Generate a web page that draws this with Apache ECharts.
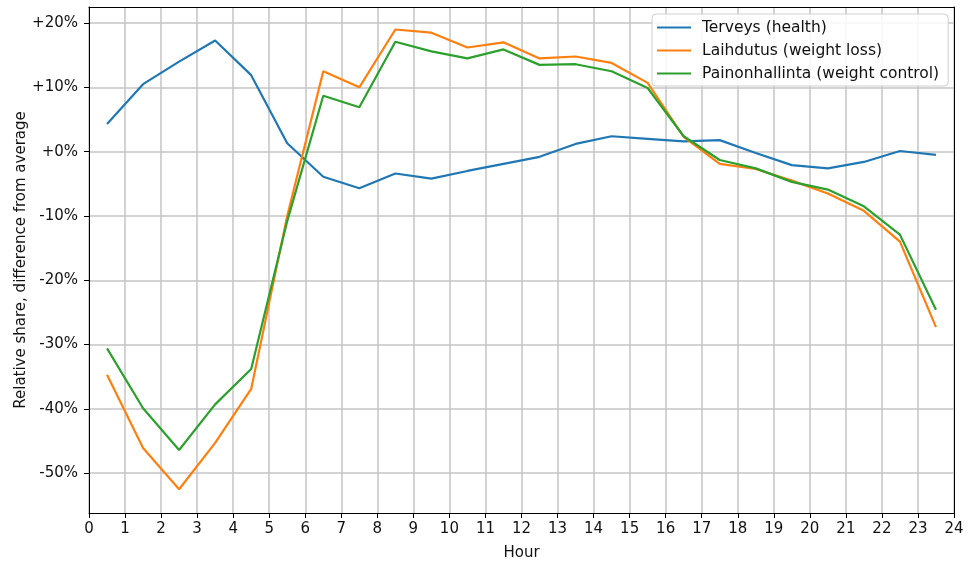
<!DOCTYPE html>
<html>
<head>
<meta charset="utf-8">
<script src="https://cdn.jsdelivr.net/npm/echarts@6/dist/echarts.min.js"></script>
<style>
  html, body { margin: 0; padding: 0; background: #fff; }
  #chart { width: 973px; height: 562px; }
</style>
</head>
<body>
<div id="chart"></div>
<script>
// Hour of day (bin centres) and relative share vs. daily average, in percent
const hours = [0.5, 1.5, 2.5, 3.5, 4.5, 5.5, 6.5, 7.5, 8.5, 9.5, 10.5, 11.5,
               12.5, 13.5, 14.5, 15.5, 16.5, 17.5, 18.5, 19.5, 20.5, 21.5, 22.5, 23.5];

const terveys = [4.3, 10.5, 14.0, 17.3, 11.9, 1.3, -3.9, -5.7, -3.4, -4.2, -3.0, -1.9,
                 -0.8, 1.2, 2.4, 2.0, 1.6, 1.8, -0.2, -2.1, -2.6, -1.6, 0.1, -0.5];

const laihdutus = [-34.7, -46.1, -52.5, -45.3, -36.9, -10.0, 12.5, 10.0, 19.0, 18.5, 16.2, 17.0,
                   14.5, 14.8, 13.8, 10.7, 2.3, -1.9, -2.7, -4.5, -6.5, -9.2, -14.0, -27.3];

const painonhallinta = [-30.6, -39.9, -46.4, -39.3, -33.8, -10.8, 8.7, 6.9, 17.1, 15.6, 14.5, 15.9,
                        13.5, 13.6, 12.5, 9.9, 2.4, -1.3, -2.6, -4.7, -5.9, -8.5, -12.9, -24.6];

const seriesNames = ['Terveys (health)', 'Laihdutus (weight loss)', 'Painonhallinta (weight control)'];
const seriesColors = ['#1f77b4', '#ff7f0e', '#2ca02c'];

const yTickValues = [-50, -40, -30, -20, -10, 0, 10, 20];

const FONT = 'DejaVu Sans';
const FS = 15;
const gridColor = '#c4c4c4';

function pair(xs, ys) {
  return xs.map((x, i) => [x, ys[i]]);
}

function pctLabel(v) {
  const n = Math.round(v);
  return (n >= 0 ? '+' : '') + n + '%';
}

const chart = echarts.init(document.getElementById('chart'), null, { renderer: 'canvas' });

const option = {
  animation: false,
  backgroundColor: '#ffffff',
  textStyle: { fontFamily: FONT },
  grid: { left: 89, right: 19, top: 7, bottom: 49, containLabel: false, outerBoundsMode: 'none' },
  legend: {
    orient: 'vertical',
    left: 652,
    top: 14,
    padding: [5, 9, 4, 5],
    itemGap: 6,
    itemWidth: 34,
    itemHeight: 2,
    icon: 'rect',
    backgroundColor: 'rgba(255,255,255,0.85)',
    borderColor: '#d0d0d0',
    borderWidth: 1,
    borderRadius: 4,
    textStyle: {
      fontFamily: FONT,
      fontSize: 15.5,
      color: '#111',
      lineHeight: 17,
      padding: [0, 0, 0, 6]
    },
    data: seriesNames
  },
  xAxis: [
    {
      type: 'value',
      min: 0,
      max: 24,
      interval: 1,
      name: 'Hour',
      nameLocation: 'middle',
      nameGap: 33,
      nameMoveOverlap: false,
      nameTextStyle: { fontFamily: FONT, fontSize: FS, color: '#111' },
      axisLine: { show: true, onZero: false, lineStyle: { color: '#000', width: 1 } },
      axisTick: { show: true, inside: false, length: 5, lineStyle: { color: '#000' } },
      axisLabel: { fontFamily: FONT, fontSize: FS, color: '#111', margin: 9 },
      splitLine: { show: true, lineStyle: { color: gridColor, width: 1.5 } }
    },
    {
      type: 'value',
      position: 'top',
      min: 0,
      max: 24,
      z: 5,
      axisLine: { show: true, onZero: false, lineStyle: { color: '#000', width: 1 } },
      axisTick: { show: false },
      axisLabel: { show: false },
      splitLine: { show: false }
    }
  ],
  yAxis: [
    {
      type: 'value',
      min: -56.2,
      max: 22.5,
      name: 'Relative share, difference from average',
      nameLocation: 'middle',
      nameGap: 60,
      nameMoveOverlap: false,
      nameTextStyle: { fontFamily: FONT, fontSize: FS, color: '#111' },
      axisLine: { show: true, onZero: false, lineStyle: { color: '#000', width: 1 } },
      axisTick: { show: true, inside: false, length: 5, lineStyle: { color: '#000' }, customValues: yTickValues },
      axisLabel: {
        fontFamily: FONT, fontSize: FS, color: '#111', margin: 11,
        customValues: yTickValues,
        formatter: pctLabel
      },
      splitLine: { show: true, lineStyle: { color: gridColor, width: 1.5 } }
    },
    {
      type: 'value',
      position: 'right',
      min: -56.2,
      max: 22.5,
      z: 5,
      axisLine: { show: true, onZero: false, lineStyle: { color: '#000', width: 1 } },
      axisTick: { show: false },
      axisLabel: { show: false },
      splitLine: { show: false }
    }
  ],
  series: [terveys, laihdutus, painonhallinta].map((vals, i) => ({
    name: seriesNames[i],
    type: 'line',
    xAxisIndex: 0,
    yAxisIndex: 0,
    data: pair(hours, vals),
    showSymbol: false,
    symbol: 'none',
    color: seriesColors[i],
    lineStyle: { color: seriesColors[i], width: 2.2 },
    emphasis: { disabled: true },
    z: 3 + i
  }))
};

chart.setOption(option);
</script>
</body>
</html>
